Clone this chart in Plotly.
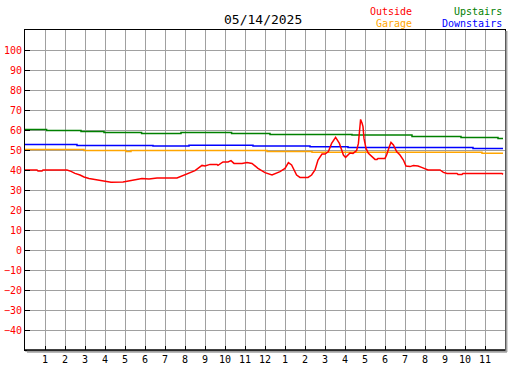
import plotly.graph_objects as go

# ---- data (hours since midnight, degrees) ----
outside_h = [0.0, 0.6, 0.65, 0.85, 0.9, 2.1, 2.3, 2.5, 2.75, 2.95, 3.2, 3.5, 3.9, 4.3, 4.9, 5.2, 5.5,
             5.85, 6.2, 6.6, 7.6, 7.85, 8.1, 8.5, 8.85, 9.0, 9.25, 9.6, 9.65, 9.9, 10.15, 10.3, 10.45,
             10.85, 11.1, 11.35, 11.65, 12.0, 12.35, 12.75, 13.0, 13.17, 13.33, 13.58, 13.75, 14.15,
             14.33, 14.5, 14.65, 14.85, 15.0, 15.17, 15.33, 15.53, 15.72, 15.92, 16.03, 16.25, 16.4,
             16.58, 16.67, 16.75, 16.78, 16.85, 16.9, 16.95, 17.05, 17.17, 17.33, 17.5, 17.6, 17.65,
             18.0, 18.08, 18.22, 18.3, 18.42, 18.58, 18.75, 18.92, 19.05, 19.25, 19.42, 19.65, 19.83,
             20.0, 20.15, 20.75, 20.92, 21.1, 21.6, 21.65, 21.85, 21.9, 23.85, 23.9]
outside_v = [40.0, 40.0, 39.5, 39.5, 40.0, 40.0, 39.3, 38.3, 37.5, 36.5, 35.8, 35.2, 34.6, 33.9, 34.0,
             34.6, 35.3, 35.8, 35.5, 36.0, 36.0, 37.0, 37.7, 39.7, 42.3, 42.0, 42.8, 42.8, 42.3, 44.0,
             44.0, 44.7, 43.3, 43.3, 43.8, 43.3, 40.8, 38.7, 37.5, 39.2, 40.8, 43.7, 42.5, 37.5, 36.3,
             36.3, 37.5, 40.0, 45.0, 48.0, 48.0, 49.2, 53.3, 56.3, 53.3, 47.5, 46.3, 48.5, 48.3, 49.7,
             53.3, 61.7, 65.3, 63.5, 61.7, 55.8, 50.8, 48.3, 46.7, 45.3, 45.3, 45.8, 45.8, 47.5, 51.7,
             53.8, 52.5, 49.2, 47.5, 45.0, 42.0, 41.7, 42.2, 42.0, 41.3, 40.5, 40.0, 40.0, 38.8, 38.3,
             38.3, 37.8, 37.8, 38.3, 38.3, 37.8]

upstairs_h = [0.0, 1.08, 2.8, 3.95, 5.83, 7.8, 10.33, 12.25, 16.35, 19.35, 21.8, 23.65, 23.9]
upstairs_v = [60.3, 59.8, 59.3, 58.8, 58.3, 58.8, 58.3, 57.8, 57.5, 56.8, 56.3, 55.8, 55.8]

downstairs_h = [0.0, 2.6, 6.4, 8.2, 11.4, 14.25, 16.15, 22.4, 23.9]
downstairs_v = [52.8, 52.3, 52.0, 52.4, 52.0, 51.6, 51.3, 50.8, 50.8]

garage_h = [0.0, 2.95, 5.05, 5.3, 12.1, 14.35, 22.85, 23.9]
garage_v = [50.2, 49.7, 49.3, 49.7, 49.2, 48.9, 48.4, 48.4]

hour_ticks = list(range(1, 24))
hour_labels = ["1", "2", "3", "4", "5", "6", "7", "8", "9", "10", "11", "12",
               "1", "2", "3", "4", "5", "6", "7", "8", "9", "10", "11"]
temp_ticks = list(range(-40, 101, 10))

title_text = "05/14/2025"
series_names = ["Outside", "Garage", "Upstairs", "Downstairs"]

# ---- figure ----
FONT = "DejaVu Sans Mono"
RED, ORANGE, GREEN, BLUE = "#ff0000", "#ffa500", "#008000", "#0000ff"

fig = go.Figure()
fig.add_trace(go.Scatter(x=upstairs_h, y=upstairs_v, mode="lines", line=dict(color=GREEN, width=1.5, shape="hv")))
fig.add_trace(go.Scatter(x=downstairs_h, y=downstairs_v, mode="lines", line=dict(color=BLUE, width=1.5, shape="hv")))
fig.add_trace(go.Scatter(x=garage_h, y=garage_v, mode="lines", line=dict(color=ORANGE, width=1.5, shape="hv")))
fig.add_trace(go.Scatter(x=outside_h, y=outside_v, mode="lines", line=dict(color=RED, width=1.5)))

fig.update_layout(
    width=527, height=370,
    margin=dict(l=25, r=22, t=30, b=20, autoexpand=False),
    paper_bgcolor="white", plot_bgcolor="white",
    showlegend=False,
    font=dict(family=FONT, size=10, color="black"),
    xaxis=dict(range=[0, 24], tickvals=hour_ticks, ticktext=hour_labels, automargin=False,
               showgrid=True, gridcolor="#a0a0a0", gridwidth=1,
               ticks="inside", ticklen=4, tickcolor="black", tickwidth=1,
               showline=True, linecolor="black", linewidth=1, mirror=True,
               zeroline=False, tickfont=dict(family=FONT, size=10, color="black"), fixedrange=True),
    yaxis=dict(range=[-50, 110], tickvals=temp_ticks, automargin=False,
               showgrid=True, gridcolor="#a0a0a0", gridwidth=1,
               ticks="inside", ticklen=5, tickcolor="black", tickwidth=1,
               showline=True, linecolor="black", linewidth=1, mirror=True,
               zeroline=False, tickfont=dict(family=FONT, size=10, color=RED), fixedrange=True),
    shapes=[
        dict(type="line", xref="paper", yref="paper", x0=0, x1=1.0, y0=-0.001, y1=-0.001,
             line=dict(color="black", width=2)),
        dict(type="line", xref="paper", yref="paper", x0=1.003, x1=1.003, y0=-0.006, y1=0.997,
             line=dict(color="#a0a0a0", width=2)),
        dict(type="line", xref="paper", yref="paper", x0=0.004, x1=1.004, y0=-0.0055, y1=-0.0055,
             line=dict(color="#a0a0a0", width=2)),
    ],
)

anns = [
    dict(text=title_text, x=0.496, y=1.034, color="black", size=13, anchor="center"),
    dict(text=series_names[0], x=0.8104, y=1.0584, color=RED, size=10, anchor="right"),
    dict(text=series_names[1], x=0.8104, y=1.0209, color=ORANGE, size=10, anchor="right"),
    dict(text=series_names[2], x=0.998, y=1.0584, color=GREEN, size=10, anchor="right"),
    dict(text=series_names[3], x=0.998, y=1.0209, color=BLUE, size=10, anchor="right"),
]
for a in anns:
    fig.add_annotation(text=a["text"], x=a["x"], y=a["y"], xref="paper", yref="paper",
                       xanchor=a["anchor"], yanchor="middle", showarrow=False,
                       font=dict(family=FONT, size=a["size"], color=a["color"]))

fig.write_html("out.html", config={"displayModeBar": False},
               post_script="document.body.style.margin='0';document.body.style.overflow='hidden';")
